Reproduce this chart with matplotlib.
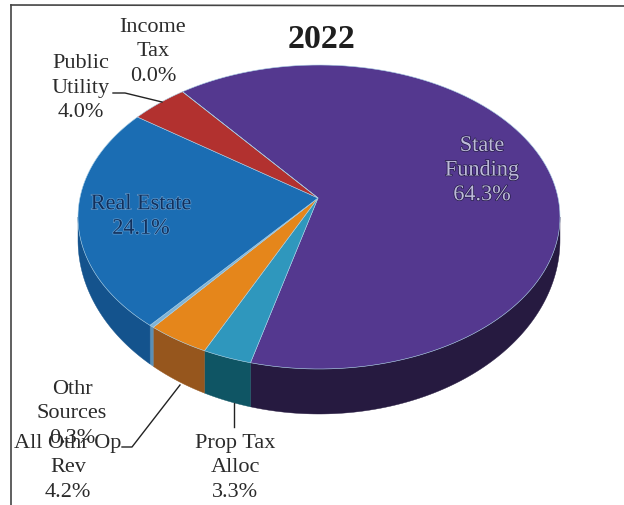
import numpy as np
import matplotlib.pyplot as plt
import matplotlib.patheffects as pe

# revenue shares, clockwise from the top left
labels = ['State\nFunding', 'Prop Tax\nAlloc', 'All Othr Op\nRev', 'Othr\nSources', 'Real Estate', 'Public\nUtility', 'Income\nTax']
values = [64.3, 3.3, 4.2, 0.3, 24.1, 4.0, 0.0]
top_colors = ['#54388f', '#2f97bd', '#e5861b', '#7fb3d5', '#1b6db3', '#b2312f', '#b2312f']
side_colors = ['#261a40', '#0f5564', '#96561d', '#5a8fb5', '#14538d', '#7c2020', '#7c2020']

# pie geometry in pixels, the lower rim is offset for the perspective
cx, cy = 319, 217
rx, ry = 241, 152
low_cy, low_ry = 240, 174
apex = (318, 198)
start = 124.5

plt.rcParams['font.family'] = 'Liberation Serif'
fig = plt.figure(figsize=(6.24, 5.05), dpi=100)
ax = fig.add_axes([0, 0, 1, 1])
ax.set_xlim(0, 624)
ax.set_ylim(505, 0)
ax.axis('off')

shares = np.array(values) / sum(values) * 360
edges = start - np.concatenate([[0], np.cumsum(shares)])


def rim(a1, a2, n=120):
    t = np.radians(np.linspace(a1, a2, n))
    return cx + rx * np.cos(t), cy - ry * np.sin(t)


def side(a1, a2, color):
    # wall between the two rims, only for the part facing the viewer
    lo, hi = max(a2, -180), min(a1, 0)
    if hi <= lo:
        return
    t = np.radians(np.linspace(hi, lo, 120))
    x = cx + rx * np.cos(t)
    upper = cy - ry * np.sin(t)
    lower = low_cy - low_ry * np.sin(t)
    ax.fill(np.r_[x, x[::-1]], np.r_[upper, lower[::-1]], color=color, lw=0.3, zorder=2)


for i in range(len(values)):
    side(edges[i], edges[i + 1], side_colors[i])

# top face of the pie
for i in range(len(values)):
    x, y = rim(edges[i], edges[i + 1])
    ax.fill(np.r_[apex[0], x], np.r_[apex[1], y], facecolor=top_colors[i],
            edgecolor='#a9cfe6', lw=0.4, zorder=3)

fs = 16
dark = '#2b2b2b'
ls = 1.4

ax.text(322, 39, '2022', fontsize=24.5, fontweight='bold', color='#1e1e1e', ha='center', va='center')


def share_text(i):
    return labels[i] + '\n' + format(values[i], '.1f') + '%'


ax.text(153, 52, share_text(6), fontsize=fs, color=dark, ha='center', va='center', linespacing=ls)
ax.text(81, 88, share_text(5), fontsize=fs, color=dark, ha='center', va='center', linespacing=ls)
ax.text(72, 414, share_text(3), fontsize=fs, color=dark, ha='center', va='center', linespacing=ls)
ax.text(68, 468, share_text(2), fontsize=fs, color=dark, ha='center', va='center', linespacing=ls)
ax.text(235, 468, share_text(1), fontsize=fs, color=dark, ha='center', va='center', linespacing=ls)
ax.text(141, 217, share_text(4), fontsize=fs, color='#12305c', ha='center', va='center', linespacing=ls,
        zorder=5, path_effects=[pe.withStroke(linewidth=1, foreground='#5f9bd0')])
ax.text(482, 171, share_text(0), fontsize=fs, color='#bdbad9', ha='center', va='center', linespacing=ls,
        zorder=5, path_effects=[pe.withStroke(linewidth=1, foreground='#231a45')])

# leader lines
ax.plot([113, 125, 162], [93, 93, 102], color='#222222', lw=1, zorder=4)
ax.plot([122, 132, 180], [447, 447, 385], color='#222222', lw=1, zorder=4)
ax.plot([234, 234], [403, 427], color='#222222', lw=1, zorder=4)

# frame of the chart area
ax.plot([11, 11], [505, 5], color='#444444', lw=1.2, zorder=1)
ax.plot([11, 624], [5, 6], color='#444444', lw=1.2, zorder=1)

fig.savefig('out.png', dpi=100)
